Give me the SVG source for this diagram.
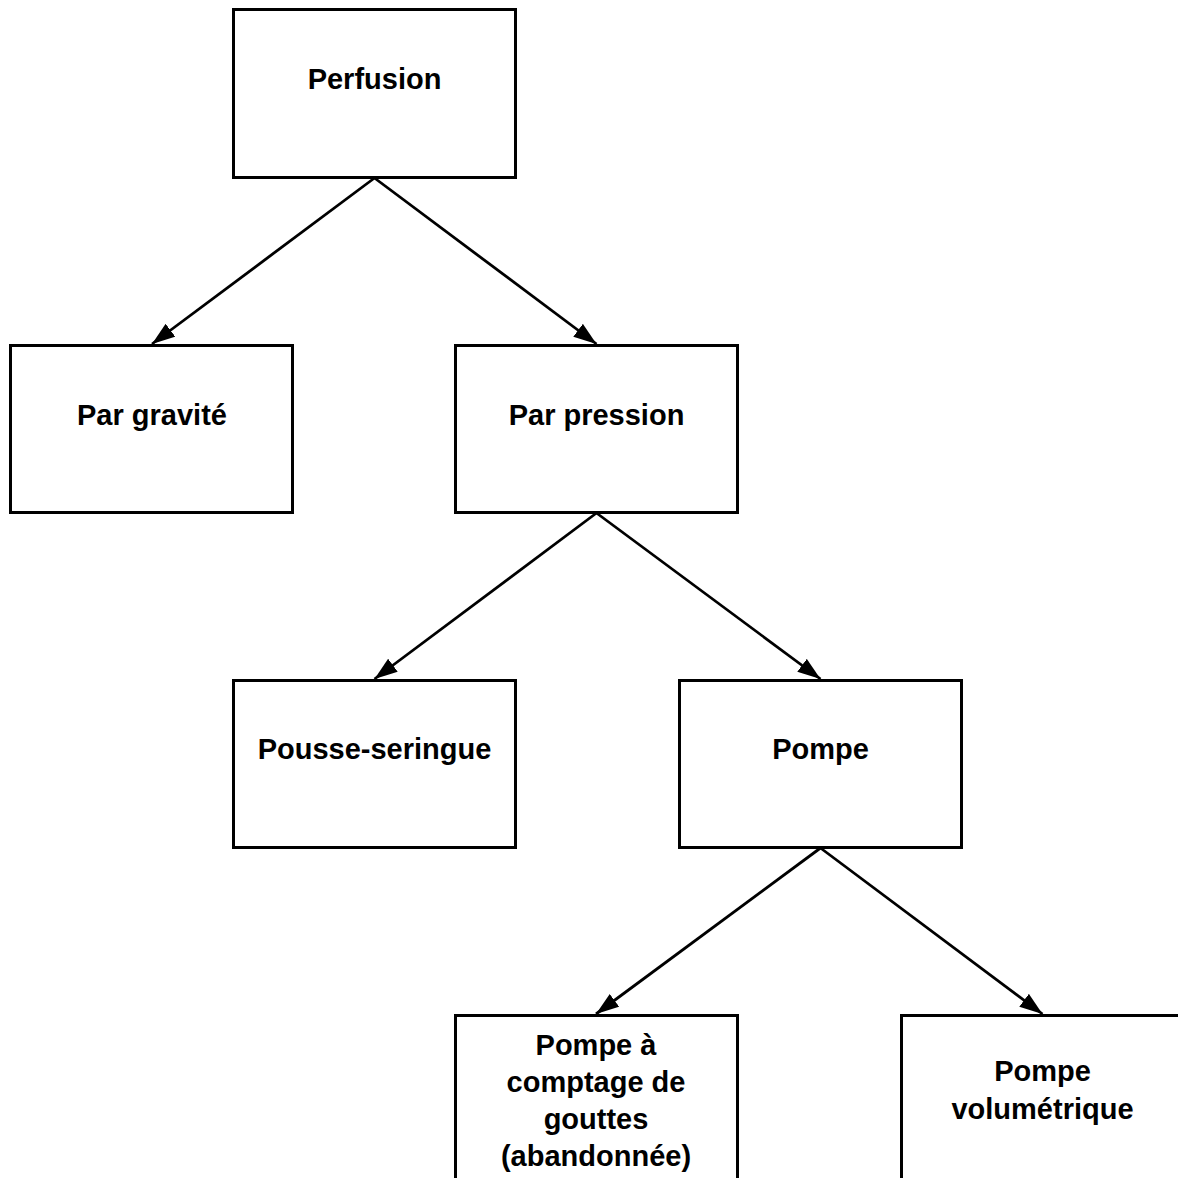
<svg xmlns="http://www.w3.org/2000/svg" width="1178" height="1178" viewBox="0 0 1178 1178">
  <defs>
    <marker id="arrow" markerUnits="userSpaceOnUse" markerWidth="26" markerHeight="18" refX="23" refY="8" orient="auto">
      <path d="M0,0 L23,8 L0,16 Z" fill="#000"/>
    </marker>
  </defs>
  <style>
    .box { fill: #fff; stroke: #000; stroke-width: 3; }
    .lbl { font-family: "Liberation Sans", Arial, sans-serif; font-weight: bold; font-size: 29px; text-anchor: middle; fill: #000; }
    .edge { stroke: #000; stroke-width: 2.8; fill: none; marker-end: url(#arrow); }
  </style>
  <rect width="1178" height="1178" fill="#fff"/>
  <g id="connectors">
    <line class="edge" x1="374.5" y1="178" x2="152" y2="344"/>
    <line class="edge" x1="374.5" y1="178" x2="596.5" y2="344"/>
    <line class="edge" x1="596.5" y1="513" x2="374.5" y2="679"/>
    <line class="edge" x1="596.5" y1="513" x2="820.5" y2="679"/>
    <line class="edge" x1="820.5" y1="848" x2="596" y2="1014"/>
    <line class="edge" x1="820.5" y1="848" x2="1042.5" y2="1014"/>
  </g>
  <g id="n-perfusion">
    <rect class="box" x="233.5" y="9.5" width="282" height="168"/>
    <text class="lbl" x="374.5" y="89">Perfusion</text>
  </g>
  <g id="n-gravite">
    <rect class="box" x="10.5" y="345.5" width="282" height="167"/>
    <text class="lbl" x="152" y="425">Par gravité</text>
  </g>
  <g id="n-pression">
    <rect class="box" x="455.5" y="345.5" width="282" height="167"/>
    <text class="lbl" x="596.5" y="425">Par pression</text>
  </g>
  <g id="n-pousse">
    <rect class="box" x="233.5" y="680.5" width="282" height="167"/>
    <text class="lbl" x="374.5" y="759">Pousse-seringue</text>
  </g>
  <g id="n-pompe">
    <rect class="box" x="679.5" y="680.5" width="282" height="167"/>
    <text class="lbl" x="820.5" y="759">Pompe</text>
  </g>
  <g id="n-comptage">
    <rect class="box" x="455.5" y="1015.5" width="282" height="170"/>
    <text class="lbl" x="596" y="1055">Pompe à</text>
    <text class="lbl" x="596" y="1092">comptage de</text>
    <text class="lbl" x="596" y="1129">gouttes</text>
    <text class="lbl" x="596" y="1166">(abandonnée)</text>
  </g>
  <g id="n-volumetrique">
    <rect class="box" x="901.5" y="1015.5" width="282" height="170"/>
    <text class="lbl" x="1042.5" y="1081">Pompe</text>
    <text class="lbl" x="1042.5" y="1119">volumétrique</text>
  </g>
</svg>
